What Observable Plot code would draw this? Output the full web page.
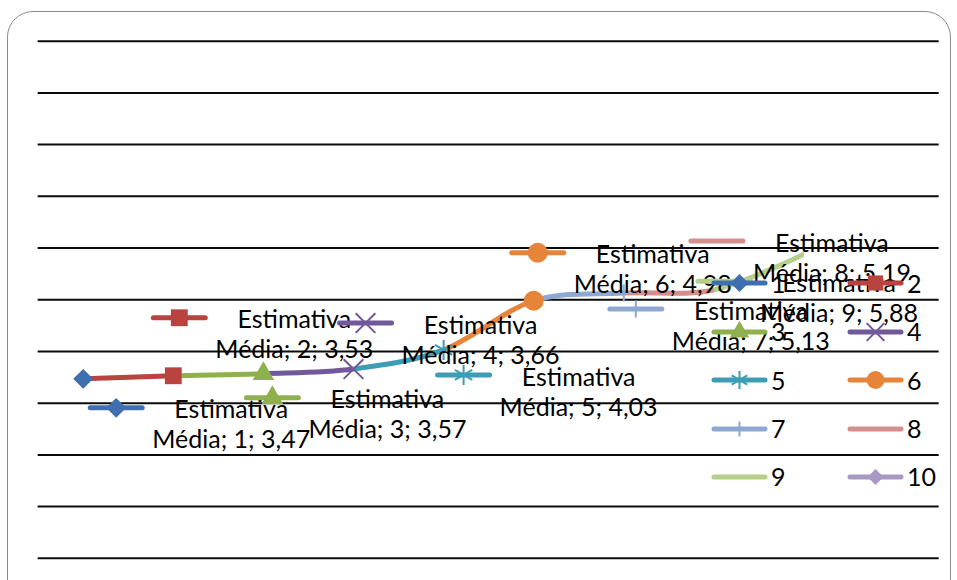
<!DOCTYPE html>
<html><head><meta charset="utf-8">
<script src="https://cdn.jsdelivr.net/npm/d3@7"></script>
<script src="https://cdn.jsdelivr.net/npm/@observablehq/plot@0.6"></script>
<style>
html,body{margin:0;padding:0;background:#fff;}
#wrap{position:relative;width:957px;height:580px;overflow:hidden;font-family:Lato,"Open Sans",sans-serif;}
#border{position:absolute;left:7px;top:11px;width:944px;height:640px;border:1.5px solid #8c8c8c;border-radius:26px;box-sizing:border-box;}
#chart{position:absolute;left:0;top:0;}
#legend{position:absolute;left:0;top:0;width:957px;height:580px;}
.li{position:absolute;display:flex;align-items:center;height:24px;font-size:25px;line-height:1;color:#000;}
.li svg{overflow:visible;}
</style></head><body>
<div id="wrap"><div id="border"></div><div id="chart"></div><div id="legend"></div></div>
<script>
// ---- data ----
const categories = [1, 2, 3, 4, 5, 6, 7, 8, 9];
const means = [3.47, 3.53, 3.57, 3.66, 4.03, 4.98, 5.13, 5.19, 5.88];
const seriesNames = ["1", "2", "3", "4", "5", "6", "7", "8", "9", "10"];
const labelFirstLine = "Estimativa";
const labelSecondWord = "Média";
const yTicks = [0, 1, 2, 3, 4, 5, 6, 7, 8, 9, 10];

// ---- styles ----
const seriesColors = ["#3f6fae", "#b8433f", "#8fb04f", "#71589a", "#3c9db5",
                      "#e6843a", "#8ea8d1", "#d68d8b", "#b5cf8a", "#a899c4"];
const seriesSymbols = ["diamond2", "square", "triangle", "times", "asterisk",
                       "circle", "plus", null, null, "diamond2"];
const symbolR = [9, 9.5, 8, 9, 9.5, 10, 5.5, 0, 0, 8];
const strokeSymbols = new Set(["times", "asterisk", "plus"]);
// label layout: pixel offset of the first label line from its data point
const labelOffsets = [[148, 30], [121, -57], [124, 25], [127, -45], [135, 26],
                      [119, -47], [127, 17], [118, -48], [35, 28]];
const keyShift = -115;
const FONT = "Lato, 'Open Sans', sans-serif";
const FS = 25;
const LW = 5;

const rows = categories.map((c, i) => ({x: c, y: means[i], s: i}));
const fmt = v => v.toFixed(2).replace(".", ",");

const keyLine = {draw(ctx) { ctx.moveTo(-26, 0); ctx.lineTo(26, 0); }};

function markerMark(data, i, opts = {}) {
  const sym = seriesSymbols[i];
  if (!sym) return null;
  const stroke = strokeSymbols.has(sym);
  return Plot.dot(data, {
    x: "x", y: "y", symbol: sym, r: symbolR[i],
    fill: stroke ? "none" : seriesColors[i],
    stroke: stroke ? seriesColors[i] : "none",
    strokeWidth: stroke ? 2 : 0,
    ...opts
  });
}

const marks = [];
marks.push(Plot.ruleY(yTicks, {stroke: "#0a0a0a", strokeWidth: 2}));
// colored smooth segments (clipped later)
for (let i = 2; i <= categories.length; i++) {
  marks.push(Plot.line(rows, {x: "x", y: "y", curve: "cardinal", stroke: seriesColors[i - 1],
    strokeWidth: LW}));
}
// markers at data points
rows.forEach((r, i) => { const m = markerMark([r], i); if (m) marks.push(m); });
// data labels with legend keys
rows.forEach((r, i) => {
  const [dx, dy] = labelOffsets[i];
  marks.push(Plot.dot([r], {x: "x", y: "y", symbol: keyLine, r: 5, fill: "none",
    stroke: seriesColors[i], strokeWidth: LW, strokeLinecap: "round", dx: dx + keyShift, dy: dy - 1}));
  const m = markerMark([r], i, {dx: dx + keyShift, dy: dy - 1});
  if (m) marks.push(m);
  marks.push(Plot.text([r], {x: "x", y: "y",
    text: d => `${labelFirstLine}\n${labelSecondWord}; ${d.x}; ${fmt(d.y)}`,
    dx, dy: dy + 15, lineHeight: 1.2, fontSize: FS, fontFamily: FONT, fill: "#000"}));
});

const plot = Plot.plot({
  width: 957, height: 580,
  marginLeft: 37.65, marginRight: 18.35, marginTop: 40.7, marginBottom: 22.2,
  x: {type: "linear", domain: [0.5, 10.5], axis: null},
  y: {domain: [0, 10], axis: null},
  style: {background: "transparent", fontFamily: FONT, fontSize: FS + "px"},
  marks
});

// clip each colored segment between its two categories
const xs = plot.scale("x");
const svg = d3.select(plot);
const defs = svg.insert("defs", ":first-child");
const lineGroups = svg.selectAll('g[aria-label="line"]').nodes();
for (let i = 2; i <= categories.length; i++) {
  const id = `segclip${i}`;
  const x0 = xs.apply(i - 1), x1 = xs.apply(i);
  defs.append("clipPath").attr("id", id).append("rect")
    .attr("x", x0).attr("width", x1 - x0).attr("y", 0).attr("height", 580);
  const g = lineGroups[i - 2];
  if (g) d3.select(g).attr("clip-path", `url(#${id})`);
}
document.getElementById("chart").appendChild(plot);

// legend (inside plot area, right side)
const legend = d3.select("#legend");
const legLeft = 712, legTop = 283.3, colW = 136, rowH = 48.4, keyW = 55;
seriesNames.forEach((name, i) => {
  const col = i % 2, row = Math.floor(i / 2);
  const item = legend.append("div").attr("class", "li")
    .style("left", (legLeft + col * colW) + "px")
    .style("top", (legTop + row * rowH - 12) + "px");
  const s = item.append("svg").attr("width", keyW).attr("height", 24);
  s.append("line").attr("x1", 2).attr("x2", keyW - 2).attr("y1", 12).attr("y2", 12)
    .attr("stroke", seriesColors[i]).attr("stroke-width", LW).attr("stroke-linecap", "round");
  const sym = seriesSymbols[i];
  if (sym) {
    const map = {diamond2: d3.symbolDiamond2, square: d3.symbolSquare, triangle: d3.symbolTriangle,
      times: d3.symbolTimes, asterisk: d3.symbolAsterisk, circle: d3.symbolCircle, plus: d3.symbolPlus};
    const r = symbolR[i] * 0.9;
    const stroke = strokeSymbols.has(sym);
    s.append("path").attr("transform", `translate(${keyW / 2},12)`)
      .attr("d", d3.symbol(map[sym], Math.PI * r * r)())
      .attr("fill", stroke ? "none" : seriesColors[i])
      .attr("stroke", stroke ? seriesColors[i] : "none")
      .attr("stroke-width", 2);
  }
  item.append("span").style("margin-left", "4px").text(name);
});
</script>
</body></html>
